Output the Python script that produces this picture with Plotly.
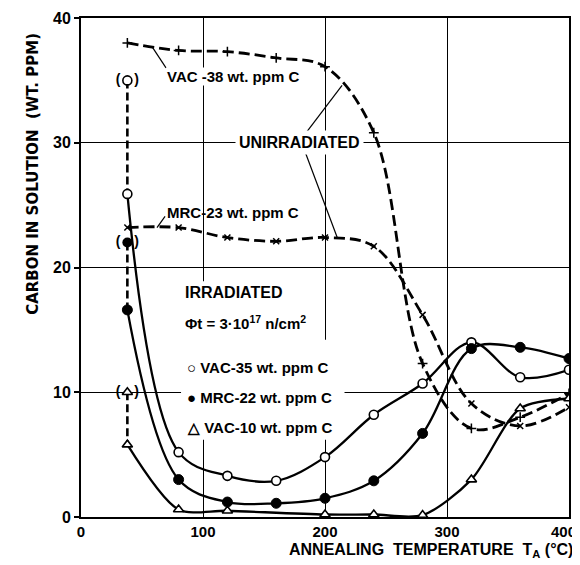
import plotly.graph_objects as go

# ---------------- data ----------------
T_unirr = [38, 80, 120, 160, 200, 240, 280, 320, 360, 400]
vac38_unirr = [38.0, 37.4, 37.3, 36.8, 36.1, 30.8, 12.3, 7.1, 8.0, 9.9]
mrc23_unirr = [23.2, 23.2, 22.4, 22.1, 22.4, 21.7, 16.2, 9.1, 7.3, 8.8]

T_irr = [38, 80, 120, 160, 200, 240, 280, 320, 360, 400]
vac35_irr = [25.9, 5.2, 3.3, 2.9, 4.8, 8.2, 10.7, 14.0, 11.2, 11.8]
mrc22_irr = [16.6, 3.0, 1.2, 1.1, 1.5, 2.9, 6.7, 13.5, 13.6, 12.7]
T_vac10 = [38, 80, 120, 200, 240, 280, 320, 360, 400]
vac10_irr = [5.8, 0.6, 0.5, 0.2, 0.2, 0.15, 3.0, 8.7, 9.5]

# as-irradiated values (shown in parentheses)
T_asirr = 38
vac35_asirr = 35.0
mrc22_asirr = 22.0
vac10_asirr = 10.0

x_ticks = [0, 100, 200, 300, 400]
y_ticks = [0, 10, 20, 30, 40]

FONT = "Liberation Sans"
BLACK = "black"

fig = go.Figure()

# ---- unirradiated (dashed) ----
fig.add_trace(go.Scatter(
    x=T_unirr, y=vac38_unirr, mode="lines+markers", line_shape="spline",
    line=dict(color=BLACK, width=2.8, dash="11px,5px"),
    marker=dict(symbol="cross-thin", size=7, line=dict(color=BLACK, width=1.5)),
    showlegend=False))
fig.add_trace(go.Scatter(
    x=T_unirr, y=mrc23_unirr, mode="lines+markers", line_shape="spline",
    line=dict(color=BLACK, width=2.8, dash="11px,5px"),
    marker=dict(symbol="x-thin", size=6, line=dict(color=BLACK, width=1.5)),
    showlegend=False))

# ---- dashed as-irradiated connectors ----
for v0, v1 in [(vac35_asirr, vac35_irr[0]), (mrc22_asirr, mrc22_irr[0]), (vac10_asirr, vac10_irr[0])]:
    fig.add_trace(go.Scatter(
        x=[T_asirr, T_irr[0]], y=[v0, v1], mode="lines",
        line=dict(color=BLACK, width=2.6, dash="8px,4px"), showlegend=False))

# ---- irradiated (solid) ----
fig.add_trace(go.Scatter(
    x=T_irr, y=vac35_irr, mode="lines+markers", line_shape="spline",
    line=dict(color=BLACK, width=2.3),
    marker=dict(symbol="circle", size=9, color="white", line=dict(color=BLACK, width=1.6)),
    showlegend=False))
fig.add_trace(go.Scatter(
    x=T_irr, y=mrc22_irr, mode="lines+markers", line_shape="spline",
    line=dict(color=BLACK, width=2.3),
    marker=dict(symbol="circle", size=10, color=BLACK, line=dict(color=BLACK, width=1)),
    showlegend=False))
fig.add_trace(go.Scatter(
    x=T_vac10, y=vac10_irr, mode="lines+markers", line_shape="spline",
    line=dict(color=BLACK, width=2.3, smoothing=0.8),
    marker=dict(symbol="triangle-up", size=9, color="white", line=dict(color=BLACK, width=1.6)),
    showlegend=False))

# ---- parenthesised as-irradiated points ----
fig.add_trace(go.Scatter(
    x=[T_asirr], y=[vac35_asirr], mode="markers",
    marker=dict(symbol="circle", size=9, color="white", line=dict(color=BLACK, width=1.6)),
    showlegend=False))
fig.add_trace(go.Scatter(
    x=[T_asirr], y=[mrc22_asirr], mode="markers",
    marker=dict(symbol="circle", size=10, color=BLACK), showlegend=False))
fig.add_trace(go.Scatter(
    x=[T_asirr], y=[vac10_asirr], mode="markers",
    marker=dict(symbol="triangle-up", size=9, color="white", line=dict(color=BLACK, width=1.6)),
    showlegend=False))
fig.add_trace(go.Scatter(
    x=[T_asirr] * 3, y=[vac35_asirr, mrc22_asirr, vac10_asirr], mode="text",
    text=["(\u2002\u2002)"] * 3, textfont=dict(family=FONT, size=14, color=BLACK, weight="bold"),
    showlegend=False, hoverinfo="skip"))

# ---- shapes: white boxes behind text blocks and leader lines ----
shapes = [
    dict(type="rect", xref="x", yref="y", x0=82, x1=193, y0=14.0, y1=18.9,
         fillcolor="white", line=dict(width=0), layer="between"),
    dict(type="rect", xref="x", yref="y", x0=82, x1=216, y0=6.2, y1=14.2,
         fillcolor="white", line=dict(width=0), layer="between"),
    dict(type="line", xref="x", yref="y", x0=58.2, y0=37.7, x1=69.7, y1=36.0,
         line=dict(color=BLACK, width=1.2)),
    dict(type="line", xref="x", yref="y", x0=68.9, y0=24.1, x1=62.3, y1=23.2,
         line=dict(color=BLACK, width=1.2)),
    dict(type="line", xref="x", yref="y", x0=185.2, y0=30.9, x1=214, y1=34.6,
         line=dict(color=BLACK, width=1.2)),
    dict(type="line", xref="x", yref="y", x0=183.6, y0=29.3, x1=210, y1=22.4,
         line=dict(color=BLACK, width=1.2)),
]

tf = dict(family=FONT, size=15, color=BLACK, weight="bold")
tf_big = dict(family=FONT, size=16, color=BLACK, weight="bold")
annotations = [
    dict(x=69.7, y=35.3, text="VAC -38 wt. ppm C", xanchor="left", bgcolor="white", borderpad=0, font=tf),
    dict(x=69.7, y=24.4, text="MRC-23 wt. ppm C", xanchor="left", borderpad=0, font=tf),
    dict(x=179.5, y=30.0, text="UNIRRADIATED", xanchor="center", bgcolor="white", borderpad=3, font=tf_big),
    dict(x=83.6, y=18.0, text="IRRADIATED", xanchor="left", font=tf_big),
    dict(x=84.0, y=15.6, text="\u03a6t = 3\u00b710<sup>17</sup> n/cm<sup>2</sup>", xanchor="left", font=tf),
    dict(x=85.0, y=12.0, text="\u25cb VAC-35 wt. ppm C", xanchor="left", font=tf),
    dict(x=85.0, y=9.6, text="\u25cf MRC-22 wt. ppm C", xanchor="left", font=tf),
    dict(x=85.0, y=7.2, text="\u25b3 VAC-10 wt. ppm C", xanchor="left", font=tf),
]
for a in annotations:
    a.update(xref="x", yref="y", yanchor="middle", showarrow=False)

# last x tick label placed flush with the right edge (as in the reference)
annotations.append(dict(
    xref="x", yref="paper", x=x_ticks[-1], y=0, xanchor="right", yanchor="middle",
    xshift=9, yshift=-14, text=str(x_ticks[-1]), showarrow=False,
    font=dict(family=FONT, size=15, color=BLACK, weight="bold")))

annotations.append(dict(
    xref="paper", yref="paper", x=-0.098, y=0.688, textangle=-90,
    text="<b>CARBON IN SOLUTION  (WT. PPM)</b>", showarrow=False,
    font=dict(family="DejaVu Sans", size=15, color=BLACK), xanchor="center", yanchor="middle"))
annotations.append(dict(
    xref="paper", yref="paper", x=1.012, y=-0.068,
    text="<b>ANNEALING  TEMPERATURE  T<sub>A</sub> (\u00b0C)</b>", showarrow=False,
    font=dict(family=FONT, size=16, color=BLACK), xanchor="right", yanchor="middle"))

# page body adds an 8px offset, so the figure is sized to fit the 580x565 window
fig.update_layout(
    width=572, height=557,
    margin=dict(l=73, r=11, t=10, b=48),
    paper_bgcolor="white", plot_bgcolor="white",
    shapes=shapes, annotations=annotations,
    showlegend=False,
)
fig.update_xaxes(
    range=[0, 400], tickvals=x_ticks, ticktext=[str(v) for v in x_ticks[:-1]] + [""],
    showgrid=True, gridcolor=BLACK, gridwidth=1.2,
    showline=True, linecolor=BLACK, linewidth=2, mirror=True,
    ticks="", zeroline=False, automargin=False, ticklabeloverflow="allow",
    tickfont=dict(family=FONT, size=15, color=BLACK, weight="bold"),
)
fig.update_yaxes(
    range=[0, 40], tickvals=y_ticks, ticktext=[str(v) for v in y_ticks],
    showgrid=True, gridcolor=BLACK, gridwidth=1.2,
    showline=True, linecolor=BLACK, linewidth=2, mirror=True,
    ticks="outside", ticklen=5, tickcolor=BLACK, tickwidth=1.5, zeroline=False,
    automargin=False, ticklabeloverflow="allow",
    tickfont=dict(family=FONT, size=16, color=BLACK, weight="bold"),
)

fig.write_html("out.html")
